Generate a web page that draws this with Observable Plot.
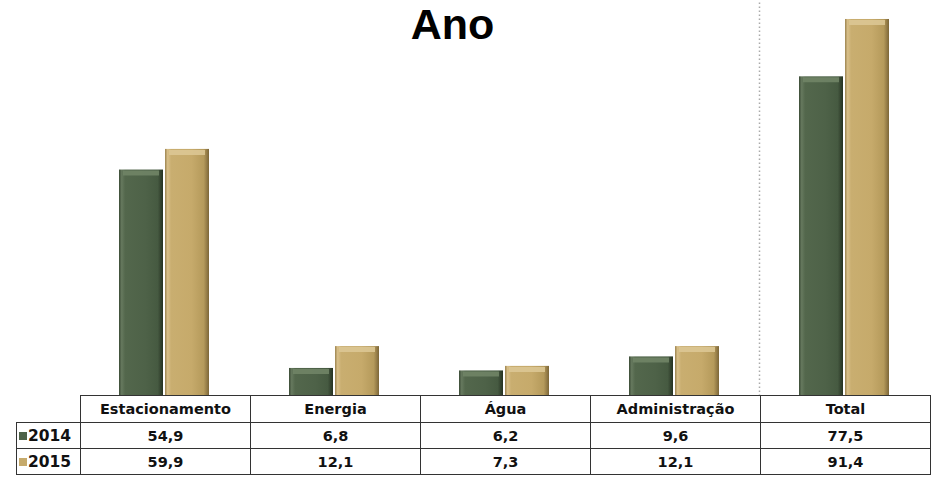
<!DOCTYPE html>
<html>
<head>
<meta charset="utf-8">
<script src="https://cdn.jsdelivr.net/npm/d3@7"></script>
<script src="https://cdn.jsdelivr.net/npm/@observablehq/plot@0.6"></script>
<style>
  html, body { margin: 0; padding: 0; background: #fff; }
  #wrap { position: relative; width: 933px; height: 477px; overflow: hidden; }
  #title { position: absolute; left: 0; width: 905px; top: 0; line-height: 48px; text-align: center;
           font-family: "Liberation Sans", Arial, sans-serif; font-weight: bold; font-size: 43px; color: #000; }
  #chart { position: absolute; left: 0; top: 0; }
  table { position: absolute; left: 16px; top: 395px; border-collapse: collapse;
          font-family: "DejaVu Sans", sans-serif; font-weight: bold; font-size: 14.5px; color: #111; }
  td { border: 1.5px solid #333; text-align: center; padding: 0; height: 25px; }
  tr.head td { height: 26px; }
  td.blank { border-top: none; border-left: none; }
  td.lab { width: 61px; text-align: left; padding-left: 2px; font-size: 15.5px; }
  td.cat { width: 169px; }
  .sw { display: inline-block; width: 8px; height: 8px; margin-right: 1px; vertical-align: 1px; }
</style>
</head>
<body>
<div id="wrap">
  <div id="chart"></div>
  <div id="title">Ano</div>
  <table id="tbl"></table>
</div>
<script>
const categories = ["Estacionamento", "Energia", "Água", "Administração", "Total"];
const series = ["2014", "2015"];
const values2014 = [54.9, 6.8, 6.2, 9.6, 77.5];
const values2015 = [59.9, 12.1, 7.3, 12.1, 91.4];
const colors = {"2014": "#4e6248", "2015": "#c6aa6b"};

const data = categories.map((c, i) => ({category: c, v2014: values2014[i], v2015: values2015[i]}));

const plot = Plot.plot({
  width: 933,
  height: 396,
  marginTop: 0,
  marginBottom: 0,
  marginLeft: 78,
  marginRight: 4,
  x: {domain: categories, padding: 0, axis: null},
  y: {domain: [0, 96], axis: null},
  marks: [
    Plot.ruleX(["Total"], {x: d => d, y1: 0, y2: 96, dx: -85, stroke: "#aaa", strokeDasharray: "1.5,2.5", strokeWidth: 1.5}),
    Plot.barY(data, {x: "category", y: "v2014", fill: "url(#g2014)", insetLeft: 40, insetRight: 86}),
    Plot.barY(data, {x: "category", y: "v2015", fill: "url(#g2015)", insetLeft: 86, insetRight: 40}),
    Plot.tickY(data, {x: "category", y: "v2014", stroke: "#708466", strokeWidth: 5, dy: 3, insetLeft: 44, insetRight: 90, strokeOpacity: 0.9}),
    Plot.tickY(data, {x: "category", y: "v2015", stroke: "#dcc794", strokeWidth: 5, dy: 3, insetLeft: 90, insetRight: 44, strokeOpacity: 0.9})
  ]
});

const defs = d3.select(plot).insert("defs", ":first-child");
function grad(id, stops) {
  const g = defs.append("linearGradient").attr("id", id).attr("x1", 0).attr("x2", 1).attr("y1", 0).attr("y2", 0);
  stops.forEach(([o, c]) => g.append("stop").attr("offset", o).attr("stop-color", c));
}
grad("g2014", [[0, "#3a4a35"], [0.06, "#66795e"], [0.14, "#53674c"], [0.6, "#4e6248"], [0.88, "#465a41"], [1, "#263222"]]);
grad("g2015", [[0, "#9c8450"], [0.06, "#d9c08a"], [0.14, "#c9ae70"], [0.6, "#c6aa6b"], [0.88, "#b59a5b"], [1, "#7c6638"]]);

document.getElementById("chart").appendChild(plot);

const tbl = d3.select("#tbl");
const head = tbl.append("tr").attr("class", "head");
head.append("td").attr("class", "blank lab");
categories.forEach(c => head.append("td").attr("class", "cat").text(c));
[["2014", values2014], ["2015", values2015]].forEach(([s, vals]) => {
  const tr = tbl.append("tr");
  const lab = tr.append("td").attr("class", "lab");
  lab.append("span").attr("class", "sw").style("background", colors[s]);
  lab.append("span").text(s);
  vals.forEach(v => tr.append("td").text(v.toFixed(1).replace(".", ",")));
});
</script>
</body>
</html>
